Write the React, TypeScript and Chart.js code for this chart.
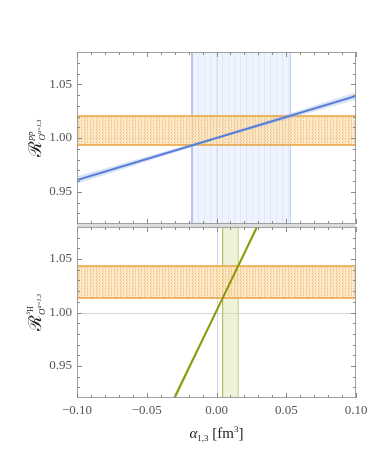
import React, { useEffect, useRef } from 'react';
import { Chart, registerables } from 'chart.js';
Chart.register(...registerables);

// ---- axes ----
const X_MIN = -0.1;
const X_MAX = 0.1;
const Y_MIN = 0.92;
const Y_MAX = 1.08;
const xMajorTicks = [-0.1, -0.05, 0, 0.05, 0.1];
const xMinorTicks = [-0.09, -0.08, -0.07, -0.06, -0.04, -0.03, -0.02, -0.01, 0.01, 0.02, 0.03, 0.04, 0.06, 0.07, 0.08, 0.09];
const yMajorTicks = [0.95, 1.0, 1.05];
const yMinorTicks = [0.93, 0.94, 0.96, 0.97, 0.98, 0.99, 1.01, 1.02, 1.03, 1.04, 1.06, 1.07];
const axisCross = [0, 1.0];

// ---- top panel: R^pp ----
const ppBandY = [0.9935, 1.0205];
const ppAlphaBand = [-0.0176, 0.053];
const ppLineX = [-0.1, 0.0, 0.1];
const ppLineY = [0.961, 1.0, 1.039];
const ppLineErr = [0.0035, 0.0012, 0.0035];

// ---- bottom panel: R^3H ----
const h3BandY = [1.0135, 1.0435];
const h3AlphaBand = [0.0044, 0.0156];
const h3LineX = [-0.0302, 0.0044, 0.029];
const h3LineY = [0.92, 1.0135, 1.08];
const h3LineErr = [0.004, 0.0015, 0.003];

const SERIF = '"Liberation Serif", "DejaVu Serif", serif';

function rect(x0: number, x1: number, y0: number, y1: number) {
  return [
    { x: x0, y: y0 },
    { x: x1, y: y0 },
    { x: x1, y: y1 },
    { x: x0, y: y1 },
    { x: x0, y: y0 },
  ];
}

function halo(xs: number[], ys: number[], es: number[]) {
  const lower = xs.map((x, i) => ({ x, y: ys[i] - es[i] }));
  const upper = xs.map((x, i) => ({ x, y: ys[i] + es[i] })).reverse();
  return [...lower, ...upper, lower[0]];
}

function makePattern(ctx: CanvasRenderingContext2D, w: number, h: number, base: string, mark: string, marks: number[][]) {
  const c = document.createElement('canvas');
  c.width = w;
  c.height = h;
  const g = c.getContext('2d')!;
  g.fillStyle = base;
  g.fillRect(0, 0, w, h);
  g.fillStyle = mark;
  marks.forEach(([x, y, mw, mh]) => g.fillRect(x, y, mw, mh));
  return ctx.createPattern(c, 'repeat');
}

type Seg = { t: string; font: string; dy: number; mark?: boolean; back?: boolean };

function segWidth(ctx: CanvasRenderingContext2D, segs: Seg[]) {
  let x = 0;
  let saved = 0;
  let maxX = 0;
  segs.forEach((s) => {
    if (s.back) x = saved;
    if (s.mark) saved = x;
    ctx.font = s.font;
    x += ctx.measureText(s.t).width;
    maxX = Math.max(maxX, x);
  });
  return maxX;
}

function drawSegs(ctx: CanvasRenderingContext2D, segs: Seg[], cx: number, by: number, rotate: boolean, color: string) {
  ctx.save();
  ctx.translate(cx, by);
  if (rotate) ctx.rotate(-Math.PI / 2);
  ctx.fillStyle = color;
  ctx.textAlign = 'left';
  ctx.textBaseline = 'alphabetic';
  const w = segWidth(ctx, segs);
  let x = -w / 2;
  let saved = x;
  segs.forEach((s) => {
    if (s.back) x = saved;
    if (s.mark) saved = x;
    ctx.font = s.font;
    ctx.fillText(s.t, x, s.dy);
    x += ctx.measureText(s.t).width;
  });
  ctx.restore();
}

function yTitle(sup: Seg[]): Seg[] {
  return [
    { t: '\u211B', font: `18px ${SERIF}`, dy: 0 },
    ...sup,
    { t: 'O', font: `italic 9px ${SERIF}`, dy: 4, back: true },
    { t: '\u03B1=1,3', font: `italic 6px ${SERIF}`, dy: 0 },
  ];
}

const topTitle = yTitle([{ t: 'pp', font: `italic 9px ${SERIF}`, dy: -8, mark: true }]);
const botTitle = yTitle([
  { t: '3', font: `6px ${SERIF}`, dy: -11, mark: true },
  { t: 'H', font: `8px ${SERIF}`, dy: -8 },
]);
const xTitle: Seg[] = [
  { t: '\u03B1', font: `italic 15px ${SERIF}`, dy: 0 },
  { t: '1,3', font: `9px ${SERIF}`, dy: 3 },
  { t: ' [fm', font: `15px ${SERIF}`, dy: 0 },
  { t: '3', font: `9px ${SERIF}`, dy: -6 },
  { t: ']', font: `15px ${SERIF}`, dy: 0 },
];

function fmt(v: number) {
  if (v < -1e-9) return '\u2212' + Math.abs(v).toFixed(2);
  return Math.abs(v).toFixed(2);
}

function panelPlugin(isTop: boolean) {
  return {
    id: 'panel' + (isTop ? 'Top' : 'Bot'),
    beforeDatasetsDraw(chart: any) {
      const { ctx, chartArea: a, scales } = chart;
      const px = Math.round(scales.x.getPixelForValue(axisCross[0])) + 0.5;
      const py = Math.round(scales.y.getPixelForValue(axisCross[1])) + 0.5;
      ctx.save();
      ctx.strokeStyle = '#d6d6d6';
      ctx.lineWidth = 1;
      ctx.beginPath();
      ctx.moveTo(px, a.top);
      ctx.lineTo(px, a.bottom);
      ctx.moveTo(a.left, py);
      ctx.lineTo(a.right, py);
      ctx.stroke();
      ctx.restore();
    },
    afterDatasetsDraw(chart: any) {
      const { ctx, chartArea: a, scales } = chart;
      const H = chart.height;
      ctx.save();
      // separator strip between the two panels
      ctx.fillStyle = '#dcdcdc';
      if (isTop) ctx.fillRect(a.left, a.bottom - 1, a.right - a.left, H - a.bottom + 1);
      else ctx.fillRect(a.left, 0, a.right - a.left, a.top + 1);
      // frame
      ctx.strokeStyle = '#a0a0a0';
      ctx.lineWidth = 1;
      const L = Math.round(a.left) + 0.5;
      const R = Math.round(a.right) - 0.5;
      const T = Math.round(a.top) + 0.5;
      const B = Math.round(a.bottom) - 0.5;
      ctx.strokeRect(L, T, R - L, B - T);
      // ticks
      ctx.strokeStyle = '#8a8a8a';
      ctx.beginPath();
      const xt = (v: number, len: number) => {
        const p = Math.round(scales.x.getPixelForValue(v)) + 0.5;
        ctx.moveTo(p, a.top);
        ctx.lineTo(p, a.top + len);
        ctx.moveTo(p, a.bottom);
        ctx.lineTo(p, a.bottom - len);
      };
      const yt = (v: number, len: number) => {
        const p = Math.round(scales.y.getPixelForValue(v)) + 0.5;
        ctx.moveTo(a.left, p);
        ctx.lineTo(a.left + len, p);
        ctx.moveTo(a.right, p);
        ctx.lineTo(a.right - len, p);
      };
      xMajorTicks.forEach((v) => xt(v, 5));
      xMinorTicks.forEach((v) => xt(v, 3));
      yMajorTicks.forEach((v) => yt(v, 5));
      yMinorTicks.forEach((v) => yt(v, 3));
      ctx.stroke();
      ctx.restore();
    },
    afterDraw(chart: any) {
      const { ctx, chartArea: a } = chart;
      drawSegs(ctx, isTop ? topTitle : botTitle, 41, (a.top + a.bottom) / 2, true, '#222');
      if (!isTop) {
        drawSegs(ctx, xTitle, (a.left + a.right) / 2, 438 - 225, false, '#222');
      }
    },
  };
}

function makeConfig(isTop: boolean, ctx: CanvasRenderingContext2D): any {
  const bandY = isTop ? ppBandY : h3BandY;
  const alphaBand = isTop ? ppAlphaBand : h3AlphaBand;
  const lx = isTop ? ppLineX : h3LineX;
  const ly = isTop ? ppLineY : h3LineY;
  const le = isTop ? ppLineErr : h3LineErr;
  const lineColor = isTop ? '#5a7ed6' : '#8a980a';
  const haloColor = isTop ? 'rgba(150,178,238,0.35)' : 'rgba(175,190,70,0.3)';
  const bandFill = isTop
    ? makePattern(ctx, 6, 2, 'rgba(225,233,251,0.55)', 'rgba(212,223,249,0.55)', [[0, 0, 1, 2]])
    : 'rgba(214,222,165,0.4)';
  const bandEdge = isTop ? 'rgba(160,183,238,0.7)' : 'rgba(178,192,95,0.75)';
  const orangeFill = makePattern(ctx, 6, 3, 'rgba(252,228,188,0.78)', 'rgba(238,172,82,0.55)', [
    [0, 0, 1, 2],
    [3, 0, 1, 2],
    [1, 2, 1, 1],
  ]);

  return {
    type: 'line',
    data: {
      datasets: [
        {
          label: 'fit',
          data: lx.map((x, i) => ({ x, y: ly[i] })),
          borderColor: lineColor,
          borderWidth: 2,
          pointRadius: 0,
          fill: false,
          tension: 0,
          order: 0,
        },
        {
          label: 'fit band',
          data: halo(lx, ly, le),
          borderWidth: 0,
          borderColor: 'rgba(0,0,0,0)',
          backgroundColor: haloColor,
          pointRadius: 0,
          fill: 'shape',
          tension: 0,
          order: 1,
        },
        {
          label: 'constraint',
          data: rect(X_MIN, X_MAX, bandY[0], bandY[1]),
          borderColor: '#e8a43e',
          borderWidth: 1.6,
          backgroundColor: orangeFill,
          pointRadius: 0,
          fill: 'shape',
          tension: 0,
          order: 2,
        },
        {
          label: 'alpha band',
          data: rect(alphaBand[0], alphaBand[1], Y_MIN, Y_MAX),
          borderColor: bandEdge,
          borderWidth: 1,
          backgroundColor: bandFill,
          pointRadius: 0,
          fill: 'shape',
          tension: 0,
          order: 3,
        },
      ],
    },
    options: {
      animation: false,
      responsive: false,
      devicePixelRatio: 1,
      layout: { padding: { left: 0, right: 18, top: isTop ? 52 : 2, bottom: isTop ? 1 : 0 } },
      plugins: { legend: { display: false }, tooltip: { enabled: false } },
      events: [],
      scales: {
        x: {
          type: 'linear',
          min: X_MIN,
          max: X_MAX,
          display: !isTop,
          grid: { display: false, drawTicks: false },
          border: { display: false },
          afterBuildTicks: (s: any) => {
            s.ticks = xMajorTicks.map((v) => ({ value: v }));
          },
          afterFit: (s: any) => {
            s.height = isTop ? 0 : 52;
            s.paddingLeft = 0;
            s.paddingRight = 0;
          },
          ticks: {
            autoSkip: false,
            maxRotation: 0,
            padding: 5,
            color: '#555',
            font: { family: SERIF, size: 13 },
            callback: (v: number) => fmt(v),
          },
        },
        y: {
          type: 'linear',
          min: Y_MIN,
          max: Y_MAX,
          grid: { display: false, drawTicks: false },
          border: { display: false },
          afterBuildTicks: (s: any) => {
            s.ticks = yMajorTicks.map((v) => ({ value: v }));
          },
          afterFit: (s: any) => {
            s.width = 77;
            s.paddingTop = 0;
            s.paddingBottom = 0;
          },
          ticks: {
            padding: 5,
            color: '#555',
            font: { family: SERIF, size: 13 },
            callback: (v: number) => fmt(v),
          },
        },
      },
    },
    plugins: [panelPlugin(isTop)],
  };
}

export default function App() {
  const topRef = useRef<HTMLCanvasElement>(null);
  const botRef = useRef<HTMLCanvasElement>(null);
  useEffect(() => {
    const tc = topRef.current!;
    const bc = botRef.current!;
    const top = new Chart(tc, makeConfig(true, tc.getContext('2d')!));
    const bot = new Chart(bc, makeConfig(false, bc.getContext('2d')!));
    return () => {
      top.destroy();
      bot.destroy();
    };
  }, []);
  return (
    <div style={{ position: 'absolute', left: 0, top: 0, width: 374, height: 450, background: '#fff' }}>
      <canvas ref={topRef} width={374} height={225} style={{ display: 'block', width: 374, height: 225 }} />
      <canvas ref={botRef} width={374} height={225} style={{ display: 'block', width: 374, height: 225 }} />
    </div>
  );
}
